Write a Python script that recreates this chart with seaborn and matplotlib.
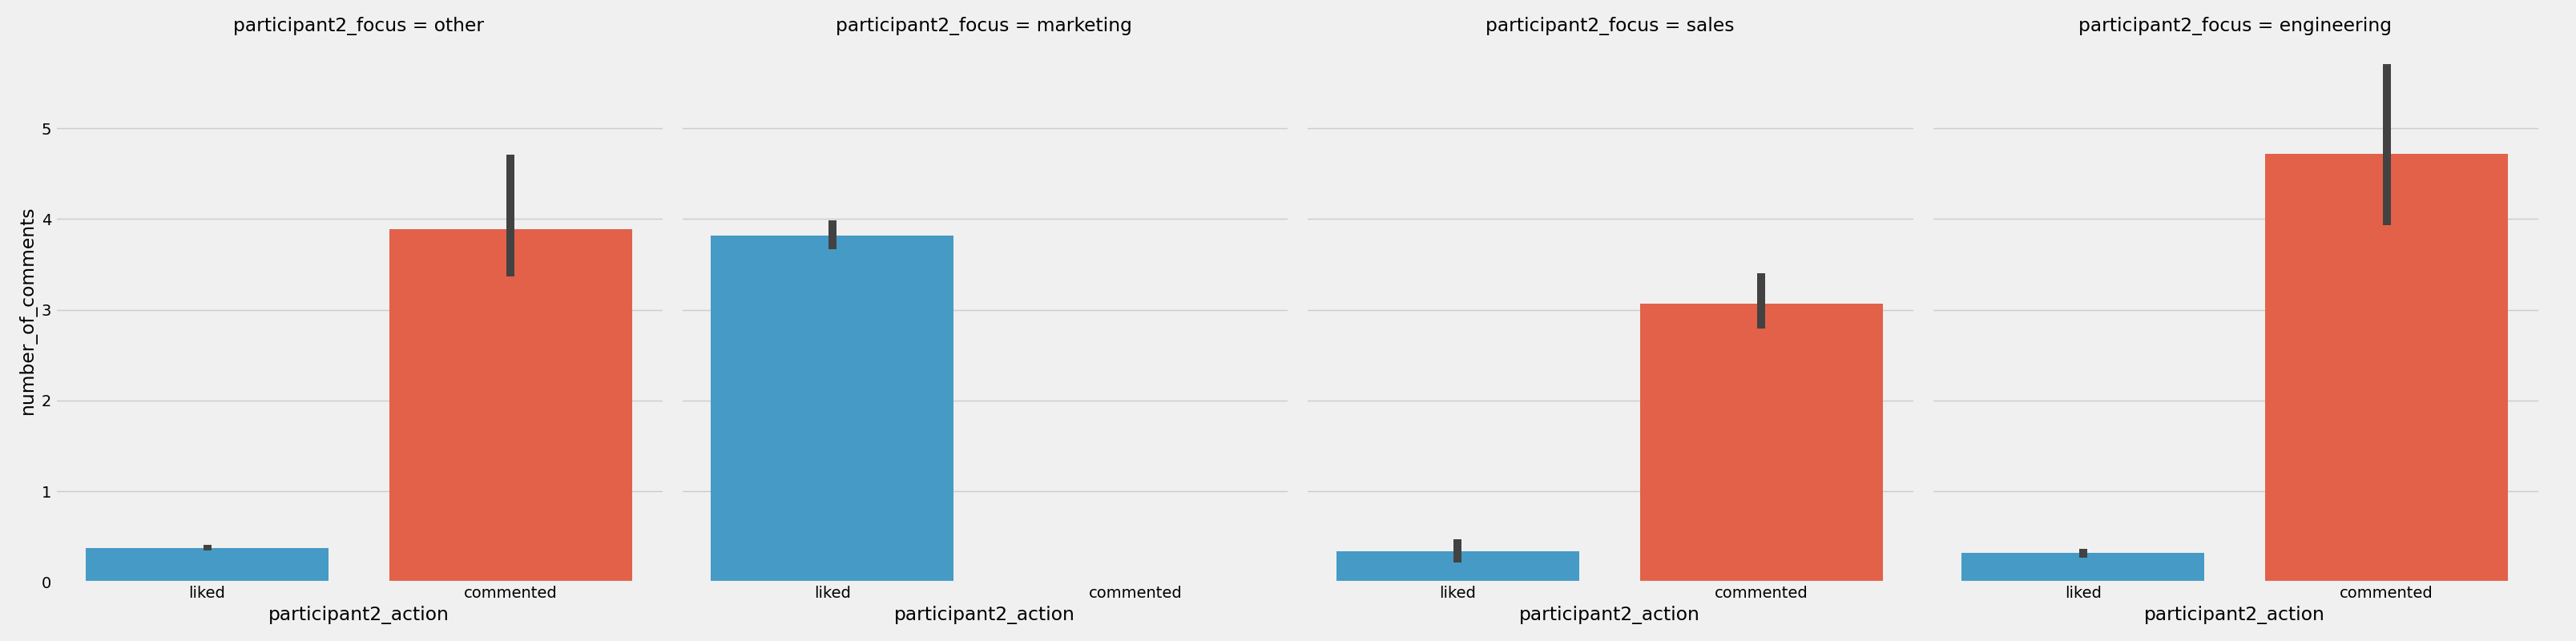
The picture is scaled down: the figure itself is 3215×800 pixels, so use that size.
import numpy as np
import pandas as pd
import matplotlib
matplotlib.use("Agg")
import matplotlib.pyplot as plt
import seaborn as sns

plt.style.use("fivethirtyeight")

# values: bar height (mean) and error-bar ends per facet
focus = ["other", "marketing", "sales", "engineering"]
actions = ["liked", "commented"]
colors = ["#30a2da", "#fc4f30"]

liked_mean = [0.38, 3.82, 0.34, 0.32]
liked_lo = [0.35, 3.67, 0.22, 0.27]
liked_hi = [0.41, 3.99, 0.47, 0.37]

commented_mean = [3.89, np.nan, 3.07, 4.72]
commented_lo = [3.37, np.nan, 2.79, 3.93]
commented_hi = [4.71, np.nan, 3.40, 5.71]

# long table: three rows per bar (lo, mean, hi) -> median gives the bar, min/max the error bar
rows = []
for action, mean, lo, hi in [("liked", liked_mean, liked_lo, liked_hi),
                             ("commented", commented_mean, commented_lo, commented_hi)]:
    for i, f in enumerate(focus):
        if np.isnan(mean[i]):
            continue
        for v in (lo[i], mean[i], hi[i]):
            rows.append({"participant2_focus": f, "participant2_action": action,
                         "number_of_comments": v})
df = pd.DataFrame(rows)

g = sns.catplot(data=df, x="participant2_action", y="number_of_comments",
                col="participant2_focus", col_order=focus, order=actions,
                hue="participant2_action", hue_order=actions, palette=colors,
                legend=False, kind="bar", estimator="median",
                errorbar=lambda x: (x.min(), x.max()),
                err_kws={"linewidth": 7.2, "color": ".26"},
                height=8, aspect=1)

g.figure.set_size_inches(32.15, 8)
g.tight_layout()
# match the panel placement of the reference
g.figure.subplots_adjust(left=0.0215, right=0.9854, wspace=0.0303)
g.figure.savefig("out.png", dpi=100)
